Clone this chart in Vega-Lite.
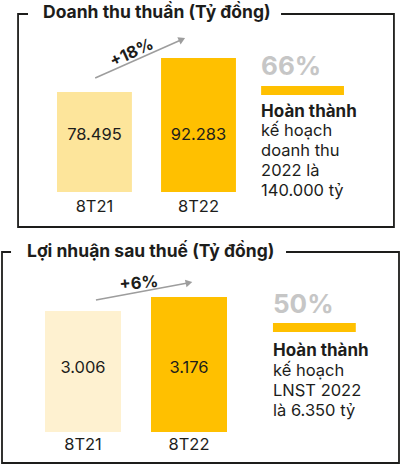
{
  "$schema": "https://vega.github.io/schema/vega-lite/v6.json",
  "description": "Doanh thu thuần và lợi nhuận sau thuế 8T21 - 8T22",
  "padding": {"left": 1, "top": 3, "right": 0, "bottom": 0},
  "datasets": {
    "revenue": [
      {"period": "8T21", "value": 78495, "label": "78.495"},
      {"period": "8T22", "value": 92283, "label": "92.283"}
    ],
    "revenueNote": [
      {"title": "Doanh thu thuần (Tỷ đồng)", "growth": "+18%", "pct": "66%", "head": "Hoàn thành", "body": "kế hoạch\ndoanh thu\n2022 là\n140.000 tỷ"}
    ],
    "profit": [
      {"period": "8T21", "value": 3006, "label": "3.006"},
      {"period": "8T22", "value": 3176, "label": "3.176"}
    ],
    "profitNote": [
      {"title": "Lợi nhuận sau thuế (Tỷ đồng)", "growth": "+6%", "pct": "50%", "head": "Hoàn thành", "body": "kế hoạch\nLNST 2022\nlà 6.350 tỷ"}
    ]
  },
  "spacing": 13,
  "resolve": {"scale": {"color": "independent"}},
  "vconcat": [
    {
      "width": 392,
      "height": 213,
      "view": {"stroke": null},
      "layer": [
        {
          "data": {"name": "revenueNote"},
          "mark": {"type": "rect", "fill": null, "stroke": "#1d1d1b", "strokeWidth": 1.8},
          "encoding": {
            "x": {
              "datum": "8T21",
              "bandPosition": -0.52,
              "axis": null,
              "scale": {"domain": ["8T21", "8T22", "note"], "range": [55, 338], "paddingInner": 0.28, "paddingOuter": 0}
            },
            "x2": {"datum": "note", "bandPosition": 1.72},
            "y": {
              "datum": 110120,
              "type": "quantitative",
              "axis": null,
              "scale": {"domain": [23750, 110120], "zero": false, "nice": false}
            },
            "y2": {"datum": 23750}
          }
        },
        {
          "data": {"name": "revenue"},
          "mark": {"type": "bar"},
          "encoding": {
            "x": {"field": "period", "type": "nominal"},
            "y": {"field": "value", "type": "quantitative"},
            "y2": {"datum": 37940},
            "color": {
              "field": "period",
              "type": "nominal",
              "scale": {"domain": ["8T21", "8T22"], "range": ["#fde59b", "#ffc000"]},
              "legend": null
            }
          }
        },
        {
          "data": {"name": "revenueNote"},
          "mark": {"type": "bar", "color": "white"},
          "encoding": {
            "x": {"datum": "8T21", "bandPosition": -0.387},
            "x2": {"datum": "note", "bandPosition": 0.213},
            "y": {"datum": 111420},
            "y2": {"datum": 108820}
          }
        },
        {
          "data": {"name": "revenueNote"},
          "mark": {"type": "text", "fontSize": 17.5, "fontWeight": "bold", "align": "left", "baseline": "alphabetic"},
          "encoding": {
            "x": {"datum": "8T21", "bandPosition": -0.187},
            "y": {"datum": 108500},
            "text": {"field": "title"}
          }
        },
        {
          "data": {"name": "revenue"},
          "mark": {"type": "text", "fontSize": 16.5},
          "encoding": {
            "x": {"field": "period", "type": "nominal"},
            "y": {"datum": 61000},
            "text": {"field": "label"}
          }
        },
        {
          "data": {"name": "revenue"},
          "mark": {"type": "text", "fontSize": 16.5},
          "encoding": {
            "x": {"field": "period", "type": "nominal"},
            "y": {"datum": 31860},
            "text": {"field": "period"}
          }
        },
        {
          "data": {"name": "revenueNote"},
          "mark": {"type": "rule", "color": "#9d9d9d", "strokeWidth": 1.5},
          "encoding": {
            "x": {"datum": "8T21", "bandPosition": 0.51},
            "x2": {"datum": "8T22", "bandPosition": 0.28},
            "y": {"datum": 84170},
            "y2": {"datum": 99800}
          }
        },
        {
          "data": {"name": "revenueNote"},
          "mark": {"type": "point", "shape": "triangle-right", "filled": true, "size": 60, "angle": -25, "color": "#9d9d9d", "opacity": 1},
          "encoding": {
            "x": {"datum": "8T22", "bandPosition": 0.28},
            "y": {"datum": 99800}
          }
        },
        {
          "data": {"name": "revenueNote"},
          "mark": {"type": "text", "fontSize": 16.5, "fontWeight": "bold", "angle": -25},
          "encoding": {
            "x": {"datum": "8T21", "bandPosition": 1},
            "y": {"datum": 94310},
            "text": {"field": "growth"}
          }
        },
        {
          "data": {"name": "revenueNote"},
          "mark": {"type": "text", "fontSize": 26, "fontWeight": "bold", "color": "#c6c6c6", "align": "left", "dx": -4},
          "encoding": {
            "x": {"datum": "note", "bandPosition": 0},
            "y": {"datum": 88630},
            "text": {"field": "pct"}
          }
        },
        {
          "data": {"name": "revenueNote"},
          "mark": {"type": "rule", "color": "#ffc000", "strokeWidth": 9},
          "encoding": {
            "x": {"datum": "note", "bandPosition": -0.053},
            "x2": {"datum": "note", "bandPosition": 1.053},
            "y": {"datum": 79100}
          }
        },
        {
          "data": {"name": "revenueNote"},
          "mark": {"type": "text", "fontSize": 17, "fontWeight": "bold", "align": "left", "dx": -4},
          "encoding": {
            "x": {"datum": "note", "bandPosition": 0},
            "y": {"datum": 70380},
            "text": {"field": "head"}
          }
        },
        {
          "data": {"name": "revenueNote"},
          "mark": {"type": "text", "fontSize": 16.5, "align": "left", "baseline": "alphabetic", "lineBreak": "\n", "lineHeight": 20, "dx": -4},
          "encoding": {
            "x": {"datum": "note", "bandPosition": 0},
            "y": {"datum": 60850},
            "text": {"field": "body"}
          }
        }
      ]
    },
    {
      "width": 397,
      "height": 211,
      "view": {"stroke": "#1d1d1b", "strokeWidth": 1.8},
      "layer": [
        {
          "data": {"name": "profit"},
          "mark": {"type": "bar"},
          "encoding": {
            "x": {
              "field": "period",
              "type": "nominal",
              "axis": null,
              "scale": {"domain": ["8T21", "8T22", "note"], "range": [43, 331], "paddingInner": 0.283, "paddingOuter": 0}
            },
            "y": {
              "field": "value",
              "type": "quantitative",
              "scale": {"domain": [1161, 3723], "zero": false, "nice": false},
              "axis": null
            },
            "y2": {"datum": 1537},
            "color": {
              "field": "period",
              "type": "nominal",
              "scale": {"domain": ["8T21", "8T22"], "range": ["#fef1d0", "#ffc000"]},
              "legend": null
            }
          }
        },
        {
          "data": {"name": "profitNote"},
          "mark": {"type": "bar", "color": "white"},
          "encoding": {
            "x": {"datum": "8T21", "bandPosition": -0.447},
            "x2": {"datum": "note", "bandPosition": 0.382},
            "y": {"datum": 3760},
            "y2": {"datum": 3686}
          }
        },
        {
          "data": {"name": "profitNote"},
          "mark": {"type": "text", "fontSize": 17.5, "fontWeight": "bold", "align": "left", "baseline": "alphabetic"},
          "encoding": {
            "x": {"datum": "8T21", "bandPosition": -0.237},
            "y": {"datum": 3668},
            "text": {"field": "title"}
          }
        },
        {
          "data": {"name": "profit"},
          "mark": {"type": "text", "fontSize": 16.5},
          "encoding": {
            "x": {"field": "period", "type": "nominal"},
            "y": {"datum": 2314},
            "text": {"field": "label"}
          }
        },
        {
          "data": {"name": "profit"},
          "mark": {"type": "text", "fontSize": 16.5},
          "encoding": {
            "x": {"field": "period", "type": "nominal"},
            "y": {"datum": 1379},
            "text": {"field": "period"}
          }
        },
        {
          "data": {"name": "profitNote"},
          "mark": {"type": "rule", "color": "#9d9d9d", "strokeWidth": 1.5},
          "encoding": {
            "x": {"datum": "8T21", "bandPosition": 0.67},
            "x2": {"datum": "8T22", "bandPosition": 0.5},
            "y": {"datum": 3140},
            "y2": {"datum": 3350}
          }
        },
        {
          "data": {"name": "profitNote"},
          "mark": {"type": "point", "shape": "triangle-right", "filled": true, "size": 60, "angle": -12, "color": "#9d9d9d", "opacity": 1},
          "encoding": {
            "x": {"datum": "8T22", "bandPosition": 0.5},
            "y": {"datum": 3350}
          }
        },
        {
          "data": {"name": "profitNote"},
          "mark": {"type": "text", "fontSize": 16.5, "fontWeight": "bold", "angle": -5, "dx": 18},
          "encoding": {
            "x": {"datum": "8T21", "bandPosition": 1},
            "y": {"datum": 3322},
            "text": {"field": "growth"}
          }
        },
        {
          "data": {"name": "profitNote"},
          "mark": {"type": "text", "fontSize": 26, "fontWeight": "bold", "color": "#c6c6c6", "align": "left", "dx": 16},
          "encoding": {
            "x": {"datum": "note", "bandPosition": 0},
            "y": {"datum": 3079},
            "text": {"field": "pct"}
          }
        },
        {
          "data": {"name": "profitNote"},
          "mark": {"type": "rule", "color": "#ffc000", "strokeWidth": 9},
          "encoding": {
            "x": {"datum": "note", "bandPosition": 0.21},
            "x2": {"datum": "note", "bandPosition": 1.3},
            "y": {"datum": 2806}
          }
        },
        {
          "data": {"name": "profitNote"},
          "mark": {"type": "text", "fontSize": 17, "fontWeight": "bold", "align": "left", "dx": 16},
          "encoding": {
            "x": {"datum": "note", "bandPosition": 0},
            "y": {"datum": 2521},
            "text": {"field": "head"}
          }
        },
        {
          "data": {"name": "profitNote"},
          "mark": {"type": "text", "fontSize": 16.5, "align": "left", "baseline": "alphabetic", "lineBreak": "\n", "lineHeight": 20, "dx": 16},
          "encoding": {
            "x": {"datum": "note", "bandPosition": 0},
            "y": {"datum": 2217},
            "text": {"field": "body"}
          }
        }
      ]
    }
  ],
  "config": {
    "font": "Inter",
    "text": {"font": "Inter", "color": "#1d1d1b", "baseline": "middle"}
  }
}
